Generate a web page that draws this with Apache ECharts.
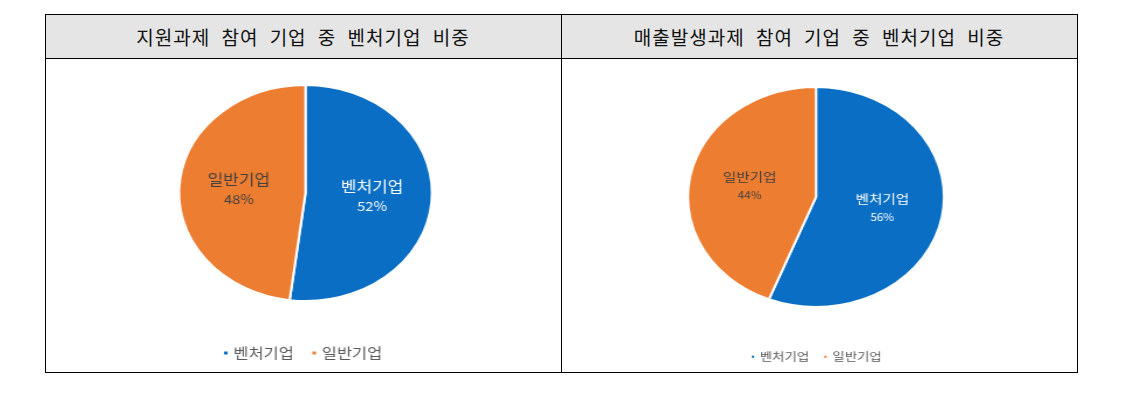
<!DOCTYPE html>
<html><head><meta charset="utf-8">
<script src="https://cdn.jsdelivr.net/npm/echarts@6/dist/echarts.min.js"></script>
<style>
html,body{margin:0;padding:0;background:#fff;width:1135px;height:401px;overflow:hidden;font-family:"Noto Sans CJK KR","Noto Sans",sans-serif;}
.line{position:absolute;background:#000;}
.hdr{position:absolute;top:15px;height:43px;background:#e5e5e5;}
.title{position:absolute;top:15px;height:43px;line-height:43px;text-align:center;font-size:19px;letter-spacing:1px;word-spacing:6px;color:#111;white-space:nowrap;}
.chart{position:absolute;transform-origin:0 0;}
</style></head>
<body>
<div class="hdr" style="left:45px;width:1032px;"></div>
<div class="title" id="t1" style="left:46px;width:514px;"></div>
<div class="title" id="t2" style="left:562px;width:514px;"></div>
<div class="chart" id="c1" style="left:46px;top:59px;width:439px;height:313px;transform:scaleX(1.171);"></div>
<div class="chart" id="c2" style="left:562px;top:59px;width:442px;height:313px;transform:scaleX(1.164);"></div>
<div class="line" style="left:45px;top:14px;width:1033px;height:1px;"></div>
<div class="line" style="left:45px;top:58px;width:1033px;height:1px;"></div>
<div class="line" style="left:45px;top:372px;width:1033px;height:1px;"></div>
<div class="line" style="left:45px;top:14px;width:1px;height:359px;"></div>
<div class="line" style="left:561px;top:14px;width:1px;height:359px;"></div>
<div class="line" style="left:1077px;top:14px;width:1px;height:359px;"></div>
<script>
const titles = ['지원과제 참여 기업 중 벤처기업 비중', '매출발생과제 참여 기업 중 벤처기업 비중'];
const categories = ['벤처기업', '일반기업'];
const leftValues = [52, 48];
const rightValues = [56, 44];
const colors = ['#0a6fc4', '#ed7d31'];

document.getElementById('t1').textContent = titles[0];
document.getElementById('t2').textContent = titles[1];

function makePie(el, values, opt) {
  const chart = echarts.init(el, null, {renderer: 'canvas'});
  const data = categories.map((c, i) => ({
    name: c, value: values[i],
    label: {color: i === 0 ? '#ffffff' : '#404040'}
  }));
  chart.setOption({
    animation: false,
    color: colors,
    textStyle: {fontFamily: '"Noto Sans CJK KR","Noto Sans",sans-serif'},
    legend: {
      data: categories,
      left: opt.legendLeft, top: opt.legendTop,
      icon: 'rect', itemWidth: opt.mark, itemHeight: opt.mark,
      itemGap: opt.legendGap,
      textStyle: {fontSize: opt.legendFont, color: '#595959', padding: [0, 0, 0, -1]}
    },
    series: [{
      type: 'pie',
      center: opt.center,
      radius: opt.radius,
      startAngle: 90,
      clockwise: true,
      avoidLabelOverlap: false,
      itemStyle: {borderColor: '#ffffff', borderWidth: 2},
      label: {
        show: true, position: 'inside',
        formatter: '{n|{b}}\n{p|{c}%}',
        rich: {
          n: {fontSize: opt.nameFont, lineHeight: opt.lh},
          p: {fontSize: opt.pctFont, lineHeight: opt.lh}
        }
      },
      labelLine: {show: false},
      emphasis: {disabled: true},
      data: data
    }]
  });
}

makePie(document.getElementById('c1'), leftValues, {
  center: [221.6, 134], radius: 108,
  legendLeft: 145, legendTop: 282, mark: 5, legendGap: 14, legendFont: 14,
  nameFont: 14.5, pctFont: 12.5, lh: 20
});
makePie(document.getElementById('c2'), rightValues, {
  center: [218.2, 138], radius: 110,
  legendLeft: 156, legendTop: 287, mark: 4, legendGap: 11, legendFont: 11.5,
  nameFont: 12.5, pctFont: 10, lh: 18
});
</script>
</body></html>
